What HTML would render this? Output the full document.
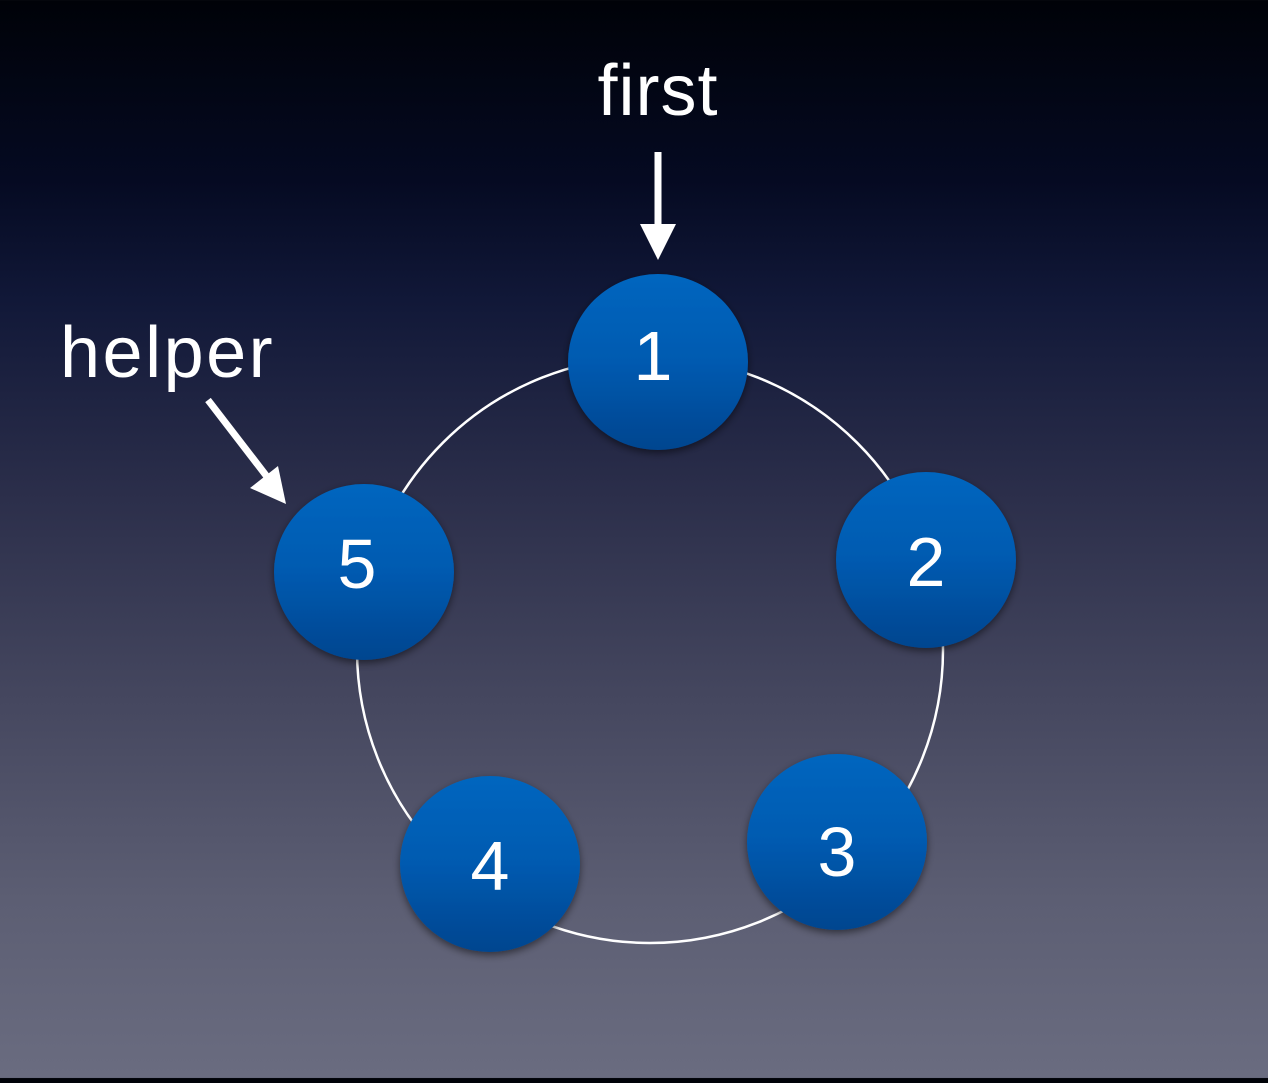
<!DOCTYPE html>
<html><head><style>
html,body{margin:0;padding:0}
body{width:1268px;height:1078px;overflow:hidden;background:linear-gradient(to bottom,#000208 0px,#050a22 180px,#111838 300px,#2c2f4b 500px,#45475f 700px,#5c5e73 900px,#6a6c80 1078px);font-family:"Liberation Sans",sans-serif}
</style></head><body>
<svg width="1268" height="1078" xmlns="http://www.w3.org/2000/svg">
<defs>
<linearGradient id="g" x1="0" y1="0" x2="0" y2="1">
<stop offset="0" stop-color="#0066bf"/><stop offset="0.5" stop-color="#005ab0"/><stop offset="1" stop-color="#00458f"/>
</linearGradient>
<filter id="s" x="-20%" y="-20%" width="140%" height="140%"><feDropShadow dx="0" dy="3" stdDeviation="4" flood-color="#000" flood-opacity="0.5"/></filter>
</defs>
<circle cx="650" cy="650" r="293" fill="none" stroke="#fff" stroke-width="2.5"/>
<g filter="url(#s)" fill="url(#g)">
<ellipse cx="658" cy="362" rx="90" ry="88"/>
<ellipse cx="926" cy="560" rx="90" ry="88"/>
<ellipse cx="837" cy="842" rx="90" ry="88"/>
<ellipse cx="490" cy="864" rx="90" ry="88"/>
<ellipse cx="364" cy="572" rx="90" ry="88"/>
</g>
<g fill="#fff" font-size="70" text-anchor="middle" font-family="Liberation Sans, sans-serif">
<text x="653" y="380">1</text>
<text x="926" y="586">2</text>
<text x="837" y="876">3</text>
<text x="490" y="890">4</text>
<text x="357" y="588">5</text>
<text x="658" y="115" font-size="72" letter-spacing="1">first</text>
<text x="60" y="377" font-size="72" letter-spacing="2.5" text-anchor="start">helper</text>
</g>
<line x1="658" y1="152" x2="658" y2="228" stroke="#fff" stroke-width="7"/>
<polygon points="640,224 676,224 658,260" fill="#fff"/>
<line x1="208" y1="400" x2="268" y2="478" stroke="#fff" stroke-width="7"/>
<polygon points="250,488 278,466 286,504" fill="#fff"/>
</svg>
</body></html>
